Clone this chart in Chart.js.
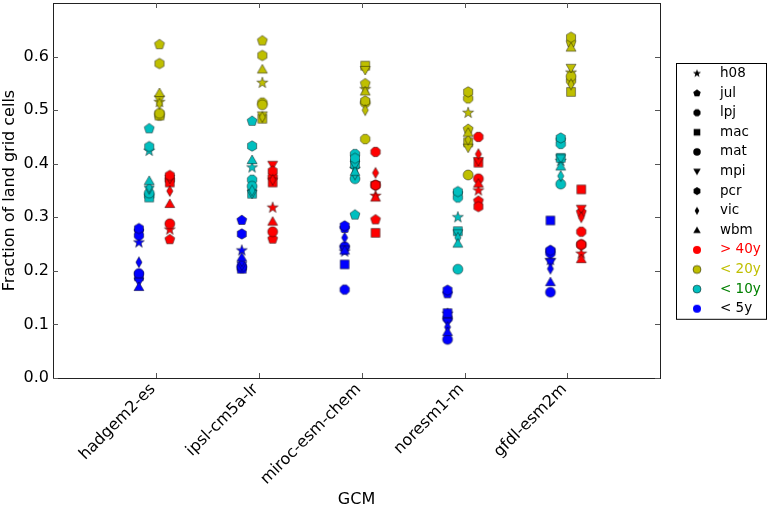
<!DOCTYPE html>
<html>
<head>
<meta charset="utf-8">
<title>Fraction of land grid cells by GCM</title>
<script src="https://cdn.jsdelivr.net/npm/chart.js@4.4.0/dist/chart.umd.min.js"></script>
<style>
  html, body { margin: 0; padding: 0; background: #fff; }
  #wrap { width: 768px; height: 507px; }
</style>
</head>
<body>
<div id="wrap"><canvas id="chart" width="768" height="507"></canvas></div>
<script>
// categories
const gcms = ['hadgem2-es', 'ipsl-cm5a-lr', 'miroc-esm-chem', 'noresm1-m', 'gfdl-esm2m'];
const models = ['h08', 'jul', 'lpj', 'mac', 'mat', 'mpi', 'pcr', 'vic', 'wbm'];
const periods = ['> 40y', '< 20y', '< 10y', '< 5y'];
const yTicks = [0.0, 0.1, 0.2, 0.3, 0.4, 0.5, 0.6];

// values: one row per model (h08..wbm), one column per GCM
const over40 = [
  [0.277, 0.318, 0.340, 0.350, 0.232],
  [0.259, 0.260, 0.296, 0.331, 0.310],
  [0.370, 0.375, 0.422, 0.450, 0.273],
  [0.365, 0.365, 0.271, 0.402, 0.352],
  [0.288, 0.273, 0.360, 0.372, 0.249],
  [0.372, 0.398, 0.360, 0.405, 0.316],
  [0.378, 0.386, 0.360, 0.320, 0.249],
  [0.349, 0.370, 0.383, 0.418, 0.300],
  [0.325, 0.292, 0.337, 0.363, 0.222]
];
const under20 = [
  [0.515, 0.551, 0.539, 0.495, 0.570],
  [0.623, 0.630, 0.550, 0.465, 0.627],
  [0.490, 0.514, 0.446, 0.522, 0.555],
  [0.490, 0.484, 0.583, 0.440, 0.534],
  [0.494, 0.510, 0.514, 0.379, 0.563],
  [0.520, 0.490, 0.575, 0.430, 0.579],
  [0.587, 0.602, 0.517, 0.534, 0.636],
  [0.512, 0.487, 0.500, 0.445, 0.548],
  [0.532, 0.576, 0.535, 0.458, 0.617]
];
const under10 = [
  [0.424, 0.393, 0.390, 0.300, 0.405],
  [0.466, 0.480, 0.305, 0.345, 0.445],
  [0.340, 0.370, 0.418, 0.337, 0.437],
  [0.337, 0.344, 0.400, 0.274, 0.411],
  [0.345, 0.358, 0.372, 0.203, 0.362],
  [0.352, 0.344, 0.398, 0.270, 0.410],
  [0.432, 0.433, 0.410, 0.348, 0.448],
  [0.356, 0.350, 0.380, 0.262, 0.377],
  [0.368, 0.407, 0.385, 0.251, 0.395]
];
const under5 = [
  [0.253, 0.238, 0.236, 0.120, 0.220],
  [0.275, 0.295, 0.280, 0.158, 0.238],
  [0.266, 0.205, 0.165, 0.111, 0.233],
  [0.190, 0.204, 0.212, 0.121, 0.294],
  [0.195, 0.208, 0.245, 0.072, 0.160],
  [0.180, 0.210, 0.240, 0.105, 0.216],
  [0.279, 0.269, 0.284, 0.164, 0.238],
  [0.216, 0.218, 0.262, 0.095, 0.204],
  [0.170, 0.225, 0.238, 0.086, 0.179]
];

// styles
const periodData = [over40, under20, under10, under5];
const periodColors = ['#ff0000', '#bfbf00', '#00bfbf', '#0000ff'];
const periodTextColors = ['#ff0000', '#bfbf00', '#008000', '#000000'];
const periodOffset = [0.135, 0.035, -0.065, -0.165];
const modelShapes = ['star', 'pentagon', 'octagon', 'square', 'circle', 'down', 'hexagon', 'diamond', 'triangle'];
const FONT = 'DejaVu Sans';

function polygon(g, cx, cy, r, n, start) {
  for (let k = 0; k < n; k++) {
    const a = start + k * 2 * Math.PI / n;
    const px = cx + r * Math.cos(a), py = cy + r * Math.sin(a);
    if (k === 0) g.moveTo(px, py); else g.lineTo(px, py);
  }
}

// 画一个 matplotlib 风格的标记，返回 canvas 作为 pointStyle
function makeMarker(shape, fill, edge, size) {
  const s = Math.ceil(size + 4);
  const c = document.createElement('canvas');
  c.width = s; c.height = s;
  const g = c.getContext('2d');
  const cx = s / 2, cy = s / 2, r = size / 2;
  g.beginPath();
  switch (shape) {
    case 'circle': g.arc(cx, cy, r, 0, 2 * Math.PI); break;
    case 'octagon': polygon(g, cx, cy, r * 1.02, 8, Math.PI / 8); break;
    case 'square': g.rect(cx - r * 0.88, cy - r * 0.88, r * 1.76, r * 1.76); break;
    case 'triangle': polygon(g, cx, cy + r * 0.15, r * 1.15, 3, -Math.PI / 2); break;
    case 'down': polygon(g, cx, cy - r * 0.15, r * 1.15, 3, Math.PI / 2); break;
    case 'pentagon': polygon(g, cx, cy + r * 0.05, r * 1.05, 5, -Math.PI / 2); break;
    case 'hexagon': polygon(g, cx, cy, r * 1.05, 6, -Math.PI / 2); break;
    case 'diamond':
      g.moveTo(cx, cy - r * 1.1); g.lineTo(cx + r * 0.62, cy);
      g.lineTo(cx, cy + r * 1.1); g.lineTo(cx - r * 0.62, cy);
      break;
    case 'star':
      for (let k = 0; k < 10; k++) {
        const a = -Math.PI / 2 + k * Math.PI / 5;
        const rr = k % 2 === 0 ? r * 1.15 : r * 0.46;
        const px = cx + rr * Math.cos(a), py = cy + rr * Math.sin(a);
        if (k === 0) g.moveTo(px, py); else g.lineTo(px, py);
      }
      break;
  }
  g.closePath();
  g.fillStyle = fill;
  g.fill();
  if (edge) {
    g.lineWidth = 0.6;
    g.strokeStyle = edge;
    g.stroke();
  }
  return c;
}

// 每个时段×模型一个标记
const markers = periodColors.map(col => modelShapes.map(sh => makeMarker(sh, col, 'rgba(0,0,0,0.75)', 10)));
const legendShapes = modelShapes.map(sh => makeMarker(sh, '#000', null, 7.5));
const legendPeriods = periodColors.map((col, p) => makeMarker('circle', col, p === 0 || p === 3 ? null : 'rgba(0,0,0,0.8)', 8));

const datasets = periods.map((label, p) => {
  const points = [];
  models.forEach((m, mi) => {
    gcms.forEach((g, gi) => {
      points.push({ x: gi + 1 + periodOffset[p], y: periodData[p][mi][gi], m: mi });
    });
  });
  return {
    label: label,
    data: points,
    pointStyle: ctx => markers[p][ctx.raw ? ctx.raw.m : 0],
    pointRadius: 5,
    backgroundColor: periodColors[p]
  };
});

// 画框、向内的刻度线
const framePlugin = {
  id: 'frame',
  afterDraw(chart) {
    const { ctx, chartArea: a, scales } = chart;
    ctx.save();
    ctx.strokeStyle = '#222';
    ctx.lineWidth = 1;
    ctx.strokeRect(a.left + 0.5, a.top + 0.5, a.right - a.left, a.bottom - a.top);
    ctx.strokeStyle = '#555';
    ctx.beginPath();
    yTicks.forEach(v => {
      const py = Math.round(scales.y.getPixelForValue(v)) + 0.5;
      ctx.moveTo(a.left, py); ctx.lineTo(a.left + 5, py);
      ctx.moveTo(a.right, py); ctx.lineTo(a.right - 5, py);
    });
    gcms.forEach((g, i) => {
      const px = Math.round(scales.x.getPixelForValue(i + 1)) + 0.5;
      ctx.moveTo(px, a.bottom); ctx.lineTo(px, a.bottom - 5);
      ctx.moveTo(px, a.top); ctx.lineTo(px, a.top + 5);
    });
    ctx.stroke();
    ctx.restore();
  }
};

// 右侧图例（带边框）
const legendPlugin = {
  id: 'boxLegend',
  afterDraw(chart) {
    const { ctx, chartArea: a } = chart;
    const items = models.map((m, i) => ({ text: m, img: legendShapes[i], color: '#000' }))
      .concat(periods.map((p, i) => ({ text: p, img: legendPeriods[i], color: periodTextColors[i] })));
    const rowH = 19.6;
    const boxW = 90, boxH = items.length * rowH + 1;
    const left = a.right + 16;
    const top = Math.round((a.top + a.bottom) / 2 - boxH / 2);
    ctx.save();
    ctx.strokeStyle = '#000';
    ctx.lineWidth = 1;
    ctx.strokeRect(left + 0.5, top + 0.5, boxW, boxH);
    ctx.font = `13.5px "${FONT}"`;
    ctx.textBaseline = 'middle';
    ctx.textAlign = 'left';
    items.forEach((it, i) => {
      const cy = top + 10.5 + i * rowH;
      ctx.drawImage(it.img, left + 21 - it.img.width / 2, cy - it.img.height / 2);
      ctx.fillStyle = it.color;
      ctx.fillText(it.text, left + 44, cy);
    });
    ctx.restore();
  }
};

Chart.defaults.font.family = FONT;
Chart.defaults.color = '#000';

new Chart(document.getElementById('chart'), {
  type: 'scatter',
  data: { datasets: datasets },
  options: {
    responsive: false,
    animation: false,
    events: [],
    layout: { autoPadding: false, padding: { top: 3, right: 108, left: 0, bottom: 0 } },
    plugins: {
      legend: { display: false },
      tooltip: { enabled: false }
    },
    scales: {
      x: {
        type: 'linear',
        min: 0,
        max: 5.9,
        afterBuildTicks: s => { s.ticks = gcms.map((g, i) => ({ value: i + 1 })); },
        afterFit: s => { s.height = 129; },
        grid: { display: false, drawTicks: false },
        border: { display: false },
        ticks: {
          autoSkip: false,
          minRotation: 45,
          maxRotation: 45,
          padding: 2,
          labelOffset: -3,
          font: { size: 16 },
          color: '#000',
          callback: v => gcms[Math.round(v) - 1]
        },
        title: { display: true, text: 'GCM', color: '#000', font: { size: 16 }, padding: { top: 0, bottom: -2 } }
      },
      y: {
        min: 0,
        max: 0.7,
        afterBuildTicks: s => { s.ticks = yTicks.map(v => ({ value: v })); },
        afterFit: s => { s.width = 53; s.paddingTop = 0; s.paddingBottom = 0; },
        grid: { display: false, drawTicks: false },
        border: { display: false },
        ticks: {
          padding: 4,
          font: { size: 16 },
          color: '#000',
          callback: v => v.toFixed(1)
        },
        title: { display: true, text: 'Fraction of land grid cells', color: '#000', font: { size: 16 }, padding: 0 }
      }
    }
  },
  plugins: [framePlugin, legendPlugin]
});
</script>
</body>
</html>
